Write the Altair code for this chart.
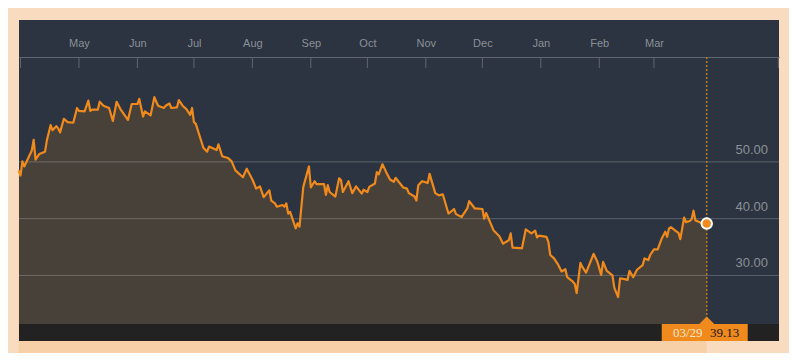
import altair as alt
import pandas as pd

# ---- data ----
dates = [
    "2015-03-30", "2015-03-31", "2015-04-01", "2015-04-02", "2015-04-06", "2015-04-07", "2015-04-08",
    "2015-04-10", "2015-04-13", "2015-04-14", "2015-04-16", "2015-04-17", "2015-04-19", "2015-04-20",
    "2015-04-21", "2015-04-23", "2015-04-25", "2015-04-28", "2015-04-30",
    "2015-05-01", "2015-05-04", "2015-05-06", "2015-05-07", "2015-05-08", "2015-05-11", "2015-05-12",
    "2015-05-14", "2015-05-17", "2015-05-19", "2015-05-21", "2015-05-23", "2015-05-27", "2015-05-29",
    "2015-06-01", "2015-06-02", "2015-06-04", "2015-06-05", "2015-06-08", "2015-06-10", "2015-06-12",
    "2015-06-15", "2015-06-16", "2015-06-18", "2015-06-19", "2015-06-22", "2015-06-23", "2015-06-25",
    "2015-06-27", "2015-06-29", "2015-06-30",
    "2015-07-01", "2015-07-02", "2015-07-06", "2015-07-08", "2015-07-09", "2015-07-13", "2015-07-14",
    "2015-07-16", "2015-07-19", "2015-07-21", "2015-07-23", "2015-07-27", "2015-07-29",
    "2015-08-01", "2015-08-03", "2015-08-05", "2015-08-07", "2015-08-10", "2015-08-11", "2015-08-13",
    "2015-08-14", "2015-08-17", "2015-08-18", "2015-08-19", "2015-08-20", "2015-08-21", "2015-08-24",
    "2015-08-25", "2015-08-26", "2015-08-28", "2015-08-31",
    "2015-09-01", "2015-09-03", "2015-09-04", "2015-09-08", "2015-09-09", "2015-09-10", "2015-09-11",
    "2015-09-14", "2015-09-16", "2015-09-17", "2015-09-18", "2015-09-21", "2015-09-23", "2015-09-25",
    "2015-09-28", "2015-09-29",
    "2015-10-01", "2015-10-02", "2015-10-05", "2015-10-06", "2015-10-07", "2015-10-09", "2015-10-11",
    "2015-10-13", "2015-10-15", "2015-10-16", "2015-10-20", "2015-10-22", "2015-10-23", "2015-10-26",
    "2015-10-27", "2015-10-28", "2015-10-30",
    "2015-11-02", "2015-11-03", "2015-11-06", "2015-11-08", "2015-11-10", "2015-11-13", "2015-11-16",
    "2015-11-17", "2015-11-20", "2015-11-23", "2015-11-24", "2015-11-27",
    "2015-12-01", "2015-12-02", "2015-12-03", "2015-12-07", "2015-12-10", "2015-12-12", "2015-12-15",
    "2015-12-16", "2015-12-17", "2015-12-21", "2015-12-22", "2015-12-24", "2015-12-27", "2015-12-29",
    "2015-12-30", "2015-12-31",
    "2016-01-04", "2016-01-05", "2016-01-06", "2016-01-08", "2016-01-10", "2016-01-12", "2016-01-14",
    "2016-01-15", "2016-01-18", "2016-01-19", "2016-01-20", "2016-01-22", "2016-01-23", "2016-01-25",
    "2016-01-29", "2016-01-31",
    "2016-02-02", "2016-02-03", "2016-02-05", "2016-02-08", "2016-02-09", "2016-02-11", "2016-02-12",
    "2016-02-15", "2016-02-16", "2016-02-17", "2016-02-19", "2016-02-21", "2016-02-24", "2016-02-25",
    "2016-02-27", "2016-02-28",
    "2016-03-01", "2016-03-03", "2016-03-05", "2016-03-07", "2016-03-08", "2016-03-09", "2016-03-10",
    "2016-03-12", "2016-03-14", "2016-03-15", "2016-03-17", "2016-03-18", "2016-03-20", "2016-03-21",
    "2016-03-22", "2016-03-23", "2016-03-26", "2016-03-29",
]
prices = [
    48.5, 47.6, 50.1, 49.2, 52.0, 53.9, 50.4,
    51.4, 51.8, 53.8, 56.5, 55.6, 56.3, 55.9,
    55.2, 57.6, 57.0, 56.9, 59.5,
    59.0, 58.9, 60.8, 59.0, 59.2, 59.2, 60.6,
    59.9, 59.5, 57.2, 60.6, 59.3, 57.4, 60.2,
    60.2, 61.1, 58.0, 58.9, 58.2, 61.4, 59.9,
    59.5, 59.9, 60.3, 59.5, 59.6, 60.9, 59.9,
    59.3, 58.3, 59.5,
    57.0, 56.7, 52.5, 51.8, 52.7, 52.1, 53.1,
    51.0, 50.7, 50.1, 48.5, 47.3, 48.8,
    46.9, 45.3, 45.7, 43.8, 45.0, 43.2, 42.7,
    42.1, 42.4, 42.1, 42.7, 40.9, 41.2, 38.3,
    39.2, 38.6, 45.6, 49.2,
    45.5, 46.6, 46.1, 46.1, 44.2, 45.9, 44.7,
    43.9, 47.1, 46.8, 44.7, 46.6, 44.5, 45.7,
    44.4, 45.1,
    44.7, 45.6, 46.2, 48.2, 47.8, 49.6, 48.2,
    46.9, 46.5, 47.2, 45.5, 45.3, 44.5, 43.9,
    43.2, 45.9, 46.6,
    46.3, 47.9, 44.5, 44.1, 44.3, 40.9, 41.7,
    40.8, 40.3, 41.8, 43.1, 41.8,
    41.7, 40.0, 41.0, 37.9, 36.9, 35.6, 36.2,
    37.4, 34.9, 34.8, 34.8, 38.1, 37.4, 37.9,
    36.7, 37.0,
    36.8, 35.9, 33.6, 33.0, 32.0, 30.7, 31.1,
    29.7, 28.9, 28.5, 26.9, 32.2, 31.5, 30.5,
    33.8, 32.4,
    30.1, 32.4, 30.8, 30.0, 27.8, 26.2, 29.5,
    29.3, 29.2, 30.8, 29.7, 31.0, 31.8, 33.0,
    32.7, 33.6,
    34.6, 34.6, 36.4, 37.7, 36.8, 38.3, 38.5,
    38.0, 37.5, 36.4, 40.2, 39.4, 39.6, 39.9,
    41.4, 39.7, 39.3, 39.13,
]
month_ticks = ["2015-05-01", "2015-06-01", "2015-07-01", "2015-08-01", "2015-09-01", "2015-10-01",
               "2015-11-01", "2015-12-01", "2016-01-01", "2016-02-01", "2016-03-01"]
edge_ticks = ["2015-03-31", "2016-05-06"]
grid_values = [30, 40, 50]
x_range = ["2015-03-30 05:00", "2016-05-06 08:00"]
y_range = [18.45, 75.0]

# ---- styling ----
W, H = 760, 321
ORANGE = "#f08a1c"
PANEL = "#2b3440"
AXIS_GRAY = "#5f666f"
LABEL_GRAY = "#8b9098"
SANS = "Liberation Sans"
SERIF = "Liberation Serif"

df = pd.DataFrame({"date": pd.to_datetime(dates), "price": prices})
last = df.iloc[[-1]].reset_index(drop=True)
tick_df = pd.DataFrame({"t": pd.to_datetime(month_ticks + edge_ticks)})
grid_df = pd.DataFrame({"v": grid_values})


def dt(s):
    t = pd.Timestamp(s)
    return alt.DateTime(year=t.year, month=t.month, date=t.day, hours=t.hour)


x_scale = alt.Scale(domain=[dt(x_range[0]), dt(x_range[1])])
y_scale = alt.Scale(domain=y_range, nice=False, zero=False)
x_axis = alt.Axis(
    values=[dt(m) for m in month_ticks], format="%b", orient="top", offset=-37,
    ticks=False, domain=True, domainColor=AXIS_GRAY, domainWidth=1, grid=False,
    labelColor=LABEL_GRAY, labelFont=SANS, labelFontSize=11, labelPadding=9,
    labelOverlap=False, labelFlush=False, title=None,
)

X = alt.X("date:T", scale=x_scale, axis=x_axis)
Y = alt.Y("price:Q", scale=y_scale, axis=None)

base = alt.Chart(df)
area = base.mark_area(color=ORANGE, opacity=0.15).encode(x=X, y=Y)
grid = alt.Chart(grid_df).mark_rule(color="white", opacity=0.22, strokeWidth=1).encode(
    y=alt.Y("v:Q", scale=y_scale, axis=None))
line = base.mark_line(color=ORANGE, strokeWidth=2.2, strokeJoin="round").encode(x=X, y=Y)

lastc = alt.Chart(last)
vline = lastc.mark_rule(color="#b07a1c", strokeDash=[2, 2], strokeWidth=1.6).encode(
    x=X, y=alt.value(37), y2=alt.value(298))
strip = lastc.mark_rect(color="#222222").encode(
    x=alt.value(0), x2=alt.value(W), y=alt.value(304), y2=alt.value(H))
box = lastc.mark_rect(color=ORANGE, xOffset=-45, x2Offset=41).encode(
    x=X, x2="date:T", y=alt.value(304), y2=alt.value(H))
tri = lastc.mark_point(shape="M -1 0 L 0 -1 L 1 0 Z", filled=True, fill=ORANGE, size=256,
                       opacity=1, strokeWidth=0).encode(x=X, y=alt.value(304.5))
txt_date = lastc.mark_text(font=SERIF, fontSize=13, color="#fde8cf", align="center",
                           baseline="alphabetic", dx=-19).encode(
    x=X, y=alt.value(317), text=alt.Text("date:T", format="%m/%d"))
txt_val = lastc.mark_text(font=SERIF, fontSize=13, color="#151515", align="center",
                          baseline="alphabetic", dx=18).encode(
    x=X, y=alt.value(317), text=alt.Text("price:Q", format=".2f"))
ylab = alt.Chart(grid_df).mark_text(font=SANS, fontSize=13, color=LABEL_GRAY, align="right",
                                    baseline="middle", dy=-12).encode(
    x=alt.value(749), y=alt.Y("v:Q", scale=y_scale, axis=None), text=alt.Text("v:Q", format=".2f"))
dot = lastc.mark_circle(fill=ORANGE, stroke="white", strokeWidth=2, size=110, opacity=1).encode(x=X, y=Y)
ticks = alt.Chart(tick_df).mark_rule(color=AXIS_GRAY, strokeWidth=1).encode(
    x=alt.X("t:T", scale=x_scale, axis=x_axis), y=alt.value(37), y2=alt.value(48))

chart = alt.layer(
    area, grid, line, vline, strip, box, tri, txt_date, txt_val, ylab, dot, ticks
).properties(
    width=W, height=H,
    padding={"left": 11, "top": 12, "right": 10, "bottom": 12},
    autosize=alt.AutoSizeParams(type="none"),
    background="#f9dcc0",
).configure_view(fill=PANEL, stroke=None)

chart.save("out.html", embed_options={"renderer": "svg", "actions": False})
